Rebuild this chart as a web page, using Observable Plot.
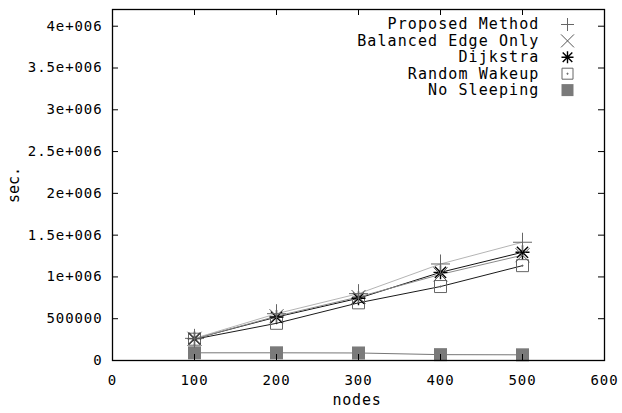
<!DOCTYPE html>
<html>
<head>
<meta charset="utf-8">
<script src="https://cdn.jsdelivr.net/npm/d3@7"></script>
<script src="https://cdn.jsdelivr.net/npm/@observablehq/plot@0.6"></script>
<style>
  html, body { margin: 0; padding: 0; background: #fff; }
  #chart svg { display: block; }
  #chart svg .legend-text text { letter-spacing: 1.1px; }
  #chart svg .tick-lab text { letter-spacing: 0.9px; }
</style>
</head>
<body>
<div id="chart"></div>
<script>
// ---- data ----
const nodes = [100, 200, 300, 400, 500];
const proposed = [265000, 560000, 800000, 1155000, 1415000];
const balanced = [260000, 530000, 760000, 1030000, 1260000];
const dijkstra = [262000, 520000, 745000, 1055000, 1295000];
const randomWakeup = [255000, 445000, 690000, 885000, 1135000];
const noSleeping = [92000, 92000, 90000, 70000, 68000];
const seriesNames = ["Proposed Method", "Balanced Edge Only", "Dijkstra", "Random Wakeup", "No Sleeping"];
const xTicks = [0, 100, 200, 300, 400, 500, 600];
const yTicks = [0, 500000, 1000000, 1500000, 2000000, 2500000, 3000000, 3500000, 4000000];
const yTickLabels = ["0", "500000", "1e+006", "1.5e+006", "2e+006", "2.5e+006", "3e+006", "3.5e+006", "4e+006"];

// ---- symbols ----
const rOf = s => Math.sqrt(s / Math.PI);
const symPlus = {draw(c, s) { const r = rOf(s); c.moveTo(-r, 0); c.lineTo(r, 0); c.moveTo(0, -r); c.lineTo(0, r); }};
const symTimes = {draw(c, s) { const r = rOf(s); c.moveTo(-r, -r); c.lineTo(r, r); c.moveTo(-r, r); c.lineTo(r, -r); }};
const symStar = {draw(c, s) { const r = rOf(s); const d = r * 0.8;
  c.moveTo(-r, 0); c.lineTo(r, 0); c.moveTo(0, -r); c.lineTo(0, r);
  c.moveTo(-d, -d); c.lineTo(d, d); c.moveTo(-d, d); c.lineTo(d, -d); }};
const symBoxDot = {draw(c, s) { const r = rOf(s); c.rect(-r, -r, 2 * r, 2 * r); c.rect(-0.5, -0.5, 1, 1); }};
const symBox = {draw(c, s) { const r = rOf(s); c.rect(-r, -r, 2 * r, 2 * r); }};

const series = [
  {name: seriesNames[0], values: proposed, line: "#b4b4b4", mark: "#666", sym: symPlus, r: 9.5, lr: 6.5, fill: "none", sw: 1},
  {name: seriesNames[1], values: balanced, line: "#8a8a8a", mark: "#555", sym: symTimes, r: 7, lr: 6.5, fill: "none", sw: 1},
  {name: seriesNames[2], values: dijkstra, line: "#111", mark: "#000", sym: symStar, r: 7, lr: 6, fill: "none", sw: 1.4},
  {name: seriesNames[3], values: randomWakeup, line: "#1a1a1a", mark: "#666", sym: symBoxDot, r: 6, lr: 5.5, fill: "none", sw: 1},
  {name: seriesNames[4], values: noSleeping, line: "#777", mark: null, sym: symBox, r: 6.5, lr: 6, fill: "#7a7a7a", sw: 1}
];

const rows = series.flatMap(s => nodes.map((n, i) => ({name: s.name, x: n, y: s.values[i]})));

const W = 622, H = 413;
const mL = 112, mR = 18, mT = 9, mB = 53;
const fw = W - mL - mR, fh = H - mT - mB;
const tick = 6;
const font = "'DejaVu Sans Mono', 'Liberation Mono', monospace";

const marks = [];
for (const s of [...series].reverse()) {
  const d = rows.filter(r => r.name === s.name);
  marks.push(Plot.line(d, {x: "x", y: "y", stroke: s.line, strokeWidth: 1}));
}
for (const s of [...series].reverse()) {
  const d = rows.filter(r => r.name === s.name);
  if (s.fill !== "none") {
    marks.push(Plot.dot(d, {x: "x", y: "y", symbol: s.sym, r: s.r, fill: s.fill, stroke: "none"}));
  } else {
    marks.push(Plot.dot(d, {x: "x", y: "y", symbol: s.sym, r: s.r, stroke: s.mark, strokeWidth: s.sw, fill: "none"}));
  }
}
// inward, mirrored ticks
marks.push(Plot.tickY(yTicks, {y: d => d, stroke: "#000", insetRight: fw - tick}));
marks.push(Plot.tickY(yTicks, {y: d => d, stroke: "#000", insetLeft: fw - tick}));
marks.push(Plot.tickX(xTicks, {x: d => d, stroke: "#000", insetTop: fh - tick}));
marks.push(Plot.tickX(xTicks, {x: d => d, stroke: "#000", insetBottom: fh - tick}));
// tick labels
marks.push(Plot.text(yTicks, {y: d => d, text: (d, i) => yTickLabels[i], frameAnchor: "left", textAnchor: "end",
  lineAnchor: "middle", dx: -10, fontSize: 14, fontFamily: font, fill: "#000", className: "tick-lab"}));
marks.push(Plot.text(xTicks, {x: d => d, text: d => String(d), frameAnchor: "bottom", textAnchor: "middle",
  lineAnchor: "middle", dy: 20, fontSize: 14, fontFamily: font, fill: "#000", className: "tick-lab"}));
marks.push(Plot.frame({stroke: "#000", strokeWidth: 1.3}));

// legend
series.forEach((s, i) => {
  const dy = 15 + i * 16.4;
  marks.push(Plot.text([s.name], {text: d => d, frameAnchor: "top-right", textAnchor: "end", lineAnchor: "middle",
    dx: -65, dy, fontSize: 15, fontFamily: font, fill: "#000", className: "legend-text"}));
  if (s.fill !== "none") {
    marks.push(Plot.dot([s.name], {frameAnchor: "top-right", dx: -37, dy, symbol: s.sym, r: s.lr, fill: s.fill, stroke: "none"}));
  } else {
    marks.push(Plot.dot([s.name], {frameAnchor: "top-right", dx: -37, dy, symbol: s.sym, r: s.lr, stroke: s.mark, fill: "none", strokeWidth: s.sw}));
  }
});

const chart = Plot.plot({
  width: W, height: H,
  marginLeft: mL, marginRight: mR, marginTop: mT, marginBottom: mB,
  style: {background: "#fff", fontFamily: font},
  x: {domain: [0, 600], axis: null},
  y: {domain: [0, 4200000], axis: null},
  marks
});

const ns = "http://www.w3.org/2000/svg";
const t1 = document.createElementNS(ns, "text");
t1.setAttribute("x", 357);
t1.setAttribute("y", 405);
t1.setAttribute("text-anchor", "middle");
t1.setAttribute("font-size", "15");
t1.setAttribute("font-family", font);
t1.setAttribute("letter-spacing", "0.8");
t1.textContent = "nodes";
chart.appendChild(t1);
const t2 = document.createElementNS(ns, "text");
t2.setAttribute("transform", "translate(19,185) rotate(-90)");
t2.setAttribute("text-anchor", "middle");
t2.setAttribute("font-size", "15");
t2.setAttribute("font-family", font);
t2.textContent = "sec.";
chart.appendChild(t2);

document.getElementById("chart").appendChild(chart);
</script>
</body>
</html>
